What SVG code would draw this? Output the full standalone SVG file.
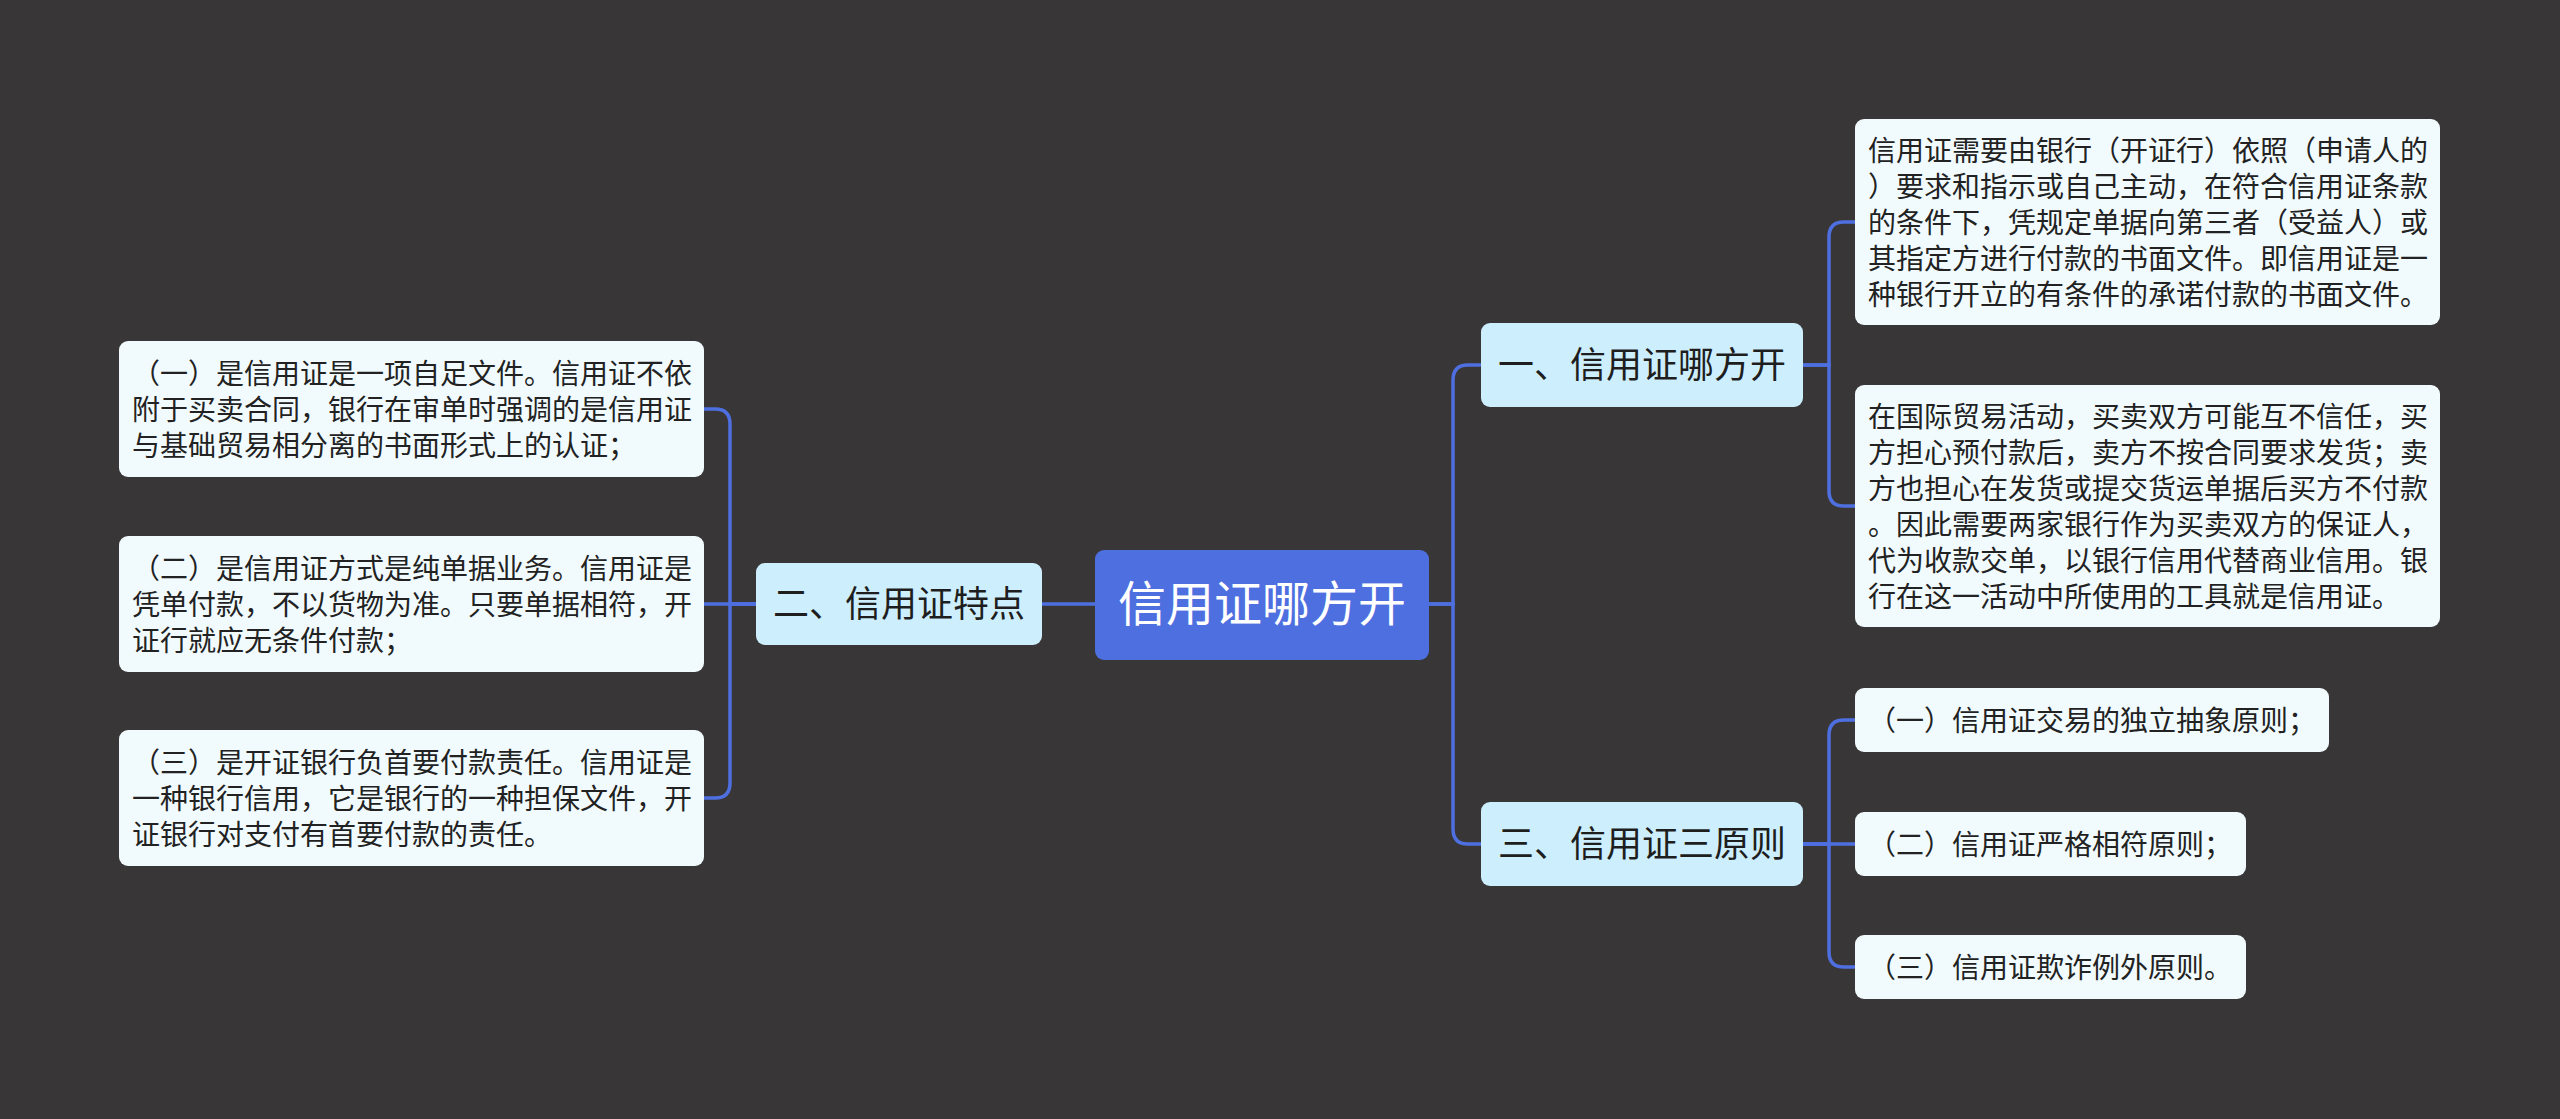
<svg xmlns="http://www.w3.org/2000/svg" width="2560" height="1119" viewBox="0 0 2560 1119">
<style>
.bg{fill:#383637}
.conn{fill:none;stroke:#4E6FDF;stroke-width:3.5;stroke-linecap:round}
.root rect{fill:#4E6FE0}
.root text{fill:#ffffff;font-family:"Noto Sans CJK SC","Noto Sans",sans-serif;font-size:48px;text-anchor:middle}
.sub rect{fill:#CDEFFD}
.sub text{fill:#1e1e1e;font-family:"Noto Sans CJK SC","Noto Sans",sans-serif;font-size:36px;text-anchor:middle}
.leaf rect{fill:#F1FBFE}
.leaf text{fill:#222222;font-family:"Noto Sans CJK SC","Noto Sans",sans-serif;font-size:28px}
</style>
<rect class="bg" x="0" y="0" width="2560" height="1119"/>
<g id="connectors">
<path class="conn" d="M1042 604 H1095"/>
<path class="conn" d="M1429 604 H1453 V380 Q1453 365 1468 365 H1481"/>
<path class="conn" d="M1429 604 H1453 V829 Q1453 844 1468 844 H1481"/>
<path class="conn" d="M756 604 H730 V424 Q730 409 715 409 H704"/>
<path class="conn" d="M756 604 H704"/>
<path class="conn" d="M756 604 H730 V783 Q730 798 715 798 H704"/>
<path class="conn" d="M1803 365 H1829 V237 Q1829 222 1844 222 H1855"/>
<path class="conn" d="M1803 365 H1829 V491 Q1829 506 1844 506 H1855"/>
<path class="conn" d="M1803 844 H1829 V735 Q1829 720 1844 720 H1855"/>
<path class="conn" d="M1803 844 H1855"/>
<path class="conn" d="M1803 844 H1829 V952 Q1829 967 1844 967 H1855"/>
</g>
<g id="root" class="root">
<rect x="1095" y="550" width="334" height="110" rx="9"/>
<text x="1262" y="621">信用证哪方开</text>
</g>
<g id="sub-tedian" class="sub">
<rect x="756" y="563" width="286" height="82" rx="9"/>
<text x="899" y="617">二、信用证特点</text>
</g>
<g id="sub-nafang" class="sub">
<rect x="1481" y="323" width="322" height="84" rx="9"/>
<text x="1642" y="378">一、信用证哪方开</text>
</g>
<g id="sub-yuanze" class="sub">
<rect x="1481" y="802" width="322" height="84" rx="9"/>
<text x="1642" y="857">三、信用证三原则</text>
</g>
<g id="leaf-l1" class="leaf">
<rect x="119" y="341" width="585" height="136" rx="9"/>
<text x="132" y="384">（一）是信用证是一项自足文件。信用证不依</text>
<text x="132" y="420">附于买卖合同，银行在审单时强调的是信用证</text>
<text x="132" y="456">与基础贸易相分离的书面形式上的认证；</text>
</g>
<g id="leaf-l2" class="leaf">
<rect x="119" y="536" width="585" height="136" rx="9"/>
<text x="132" y="579">（二）是信用证方式是纯单据业务。信用证是</text>
<text x="132" y="615">凭单付款，不以货物为准。只要单据相符，开</text>
<text x="132" y="651">证行就应无条件付款；</text>
</g>
<g id="leaf-l3" class="leaf">
<rect x="119" y="730" width="585" height="136" rx="9"/>
<text x="132" y="773">（三）是开证银行负首要付款责任。信用证是</text>
<text x="132" y="809">一种银行信用，它是银行的一种担保文件，开</text>
<text x="132" y="845">证银行对支付有首要付款的责任。</text>
</g>
<g id="leaf-r1" class="leaf">
<rect x="1855" y="119" width="585" height="206" rx="9"/>
<text x="1868" y="161">信用证需要由银行（开证行）依照（申请人的</text>
<text x="1868" y="197">）要求和指示或自己主动，在符合信用证条款</text>
<text x="1868" y="233">的条件下，凭规定单据向第三者（受益人）或</text>
<text x="1868" y="269">其指定方进行付款的书面文件。即信用证是一</text>
<text x="1868" y="305">种银行开立的有条件的承诺付款的书面文件。</text>
</g>
<g id="leaf-r2" class="leaf">
<rect x="1855" y="385" width="585" height="242" rx="9"/>
<text x="1868" y="427">在国际贸易活动，买卖双方可能互不信任，买</text>
<text x="1868" y="463">方担心预付款后，卖方不按合同要求发货；卖</text>
<text x="1868" y="499">方也担心在发货或提交货运单据后买方不付款</text>
<text x="1868" y="535">。因此需要两家银行作为买卖双方的保证人，</text>
<text x="1868" y="571">代为收款交单，以银行信用代替商业信用。银</text>
<text x="1868" y="607">行在这一活动中所使用的工具就是信用证。</text>
</g>
<g id="leaf-p1" class="leaf">
<rect x="1855" y="688" width="474" height="64" rx="9"/>
<text x="1868" y="731">（一）信用证交易的独立抽象原则；</text>
</g>
<g id="leaf-p2" class="leaf">
<rect x="1855" y="812" width="391" height="64" rx="9"/>
<text x="1868" y="855">（二）信用证严格相符原则；</text>
</g>
<g id="leaf-p3" class="leaf">
<rect x="1855" y="935" width="391" height="64" rx="9"/>
<text x="1868" y="978">（三）信用证欺诈例外原则。</text>
</g>
</svg>
